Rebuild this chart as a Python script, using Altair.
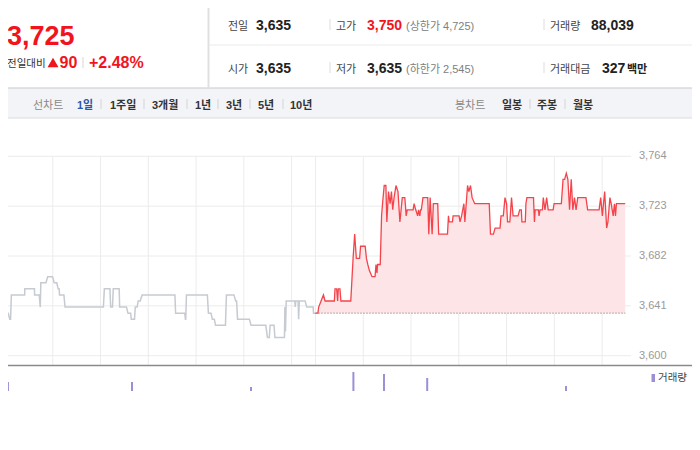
import altair as alt
import pandas as pd

# ---------------- data ----------------
prev_close = 3635
y_ticks = [3600, 3641, 3682, 3723, 3764]
grid_minutes = [0, 60, 120, 180, 240, 300, 360, 390, 450, 510, 570, 630, 690, 750]

# previous session (grey), minutes since 09:00 of previous day
prev_series = [
    (0, 3625), (1, 3635), (4, 3635), (6, 3630), (7, 3630), (8, 3650), (24.7, 3650), (24.9, 3655),
    (37, 3655), (37.2, 3650), (43, 3650), (44.3, 3640), (45, 3660), (51.5, 3660), (53.6, 3665),
    (59.7, 3665), (61.8, 3660), (65, 3660), (66.7, 3655), (68, 3655), (68.5, 3650), (74, 3650),
    (75.4, 3640), (123.6, 3640), (124.8, 3655), (131.8, 3655), (132.7, 3640), (135, 3640),
    (136, 3655), (143.4, 3655), (144, 3640), (152.5, 3640), (154.5, 3635), (157.8, 3635),
    (158.6, 3630), (162.7, 3630), (163.6, 3640), (166, 3640), (167.3, 3645), (169.8, 3645),
    (172.2, 3650), (213.4, 3650), (214.3, 3635), (225.8, 3635), (226.6, 3630), (227, 3630),
    (227.9, 3650), (254.2, 3650), (255.5, 3635), (258.8, 3635), (260.4, 3630), (262.9, 3630),
    (264.5, 3625), (276.9, 3625), (278.1, 3650), (287.6, 3650), (289.7, 3645), (290.9, 3645),
    (292.1, 3630), (307, 3630), (309, 3625), (327.6, 3625), (329.6, 3615), (332, 3615),
    (333, 3625), (337.9, 3625), (339, 3615), (351, 3615), (351.6, 3640), (352.3, 3620),
    (353.2, 3645), (364, 3645), (364.6, 3640), (365.2, 3645), (368.2, 3645), (368.8, 3630),
    (369.6, 3645), (377, 3645), (379, 3640), (387, 3640), (387.5, 3635), (390, 3635),
]

# today's session (red)
today_series = [
    (390, 3635), (393, 3635), (394, 3640), (397, 3645), (400, 3650), (402, 3645), (413.7, 3645),
    (414.5, 3655), (416.6, 3655), (417.8, 3645), (418.6, 3655), (420.7, 3655), (421.9, 3645),
    (434.3, 3645), (437.2, 3680), (439.2, 3700), (441.3, 3680), (445.4, 3680), (446.6, 3690),
    (452.4, 3690), (454, 3680), (455.7, 3675), (457.7, 3670), (461, 3665), (464.8, 3665),
    (466, 3675), (467.2, 3668), (468, 3675), (471.3, 3675), (473, 3715), (474.2, 3725),
    (476.3, 3740), (478.4, 3740), (479.6, 3710), (481.7, 3735), (483.7, 3725), (485.4, 3735),
    (487, 3720), (488.7, 3730), (491.1, 3740), (493.6, 3735), (496, 3710), (499, 3730),
    (502.2, 3730), (503.9, 3715), (505.2, 3720), (512.6, 3720), (513.8, 3725), (515.9, 3720),
    (518.3, 3715), (519.5, 3720), (521, 3715), (522, 3720), (522.9, 3720), (525, 3730),
    (531, 3730), (532.3, 3700), (534, 3730), (536.5, 3700), (538, 3725), (543.5, 3725),
    (544.7, 3700), (555.8, 3700), (557, 3715), (557.9, 3710), (562, 3710), (562.8, 3715),
    (570.3, 3715), (571.5, 3710), (573.5, 3715), (576.4, 3725), (577.6, 3710), (579.3, 3725),
    (581, 3740), (582.6, 3735), (584.7, 3740), (586.7, 3730), (590, 3725), (608.2, 3725),
    (609.8, 3700), (613.5, 3700), (615.6, 3705), (621.8, 3705), (623, 3715), (625.9, 3715),
    (628, 3730), (630, 3725), (631.2, 3710), (634.1, 3710), (636.2, 3730), (638.2, 3715),
    (644.4, 3715), (646.5, 3720), (648.5, 3720), (649.3, 3710), (653.5, 3710), (654.3, 3725),
    (655.5, 3730), (663.8, 3730), (665, 3710), (665.9, 3720), (670, 3720), (670.8, 3715),
    (672, 3720), (675, 3720), (676.1, 3730), (678.2, 3720), (680.3, 3730), (682.3, 3720),
    (688.5, 3720), (689.7, 3725), (698.8, 3725), (700.9, 3745), (702.9, 3745), (705, 3750),
    (707, 3745), (709.1, 3720), (711.2, 3745), (713.2, 3720), (715.3, 3730), (717.3, 3720),
    (719.4, 3730), (729.7, 3730), (731.8, 3720), (746.2, 3720), (748.2, 3730), (750.3, 3715),
    (753.2, 3735), (755.7, 3705), (757.3, 3710), (759.8, 3730), (761.4, 3725), (763.9, 3715),
    (765.5, 3725), (766.8, 3715), (768, 3725), (779, 3725),
]

vol_minutes = [3.7, 159.5, 309, 437.6, 476, 530.3, 704.6]
vol_values = [9000, 9000, 4000, 19000, 17000, 13000, 5000]

# ---------------- tables ----------------
prev_df = pd.DataFrame(prev_series, columns=["m", "price"])
today_df = pd.DataFrame(today_series, columns=["m", "price"])
today_df["base"] = prev_close
vol_df = pd.DataFrame({"m": vol_minutes, "v": vol_values})
ytick_df = pd.DataFrame({"v": y_ticks})
vgrid_df = pd.DataFrame({"m": grid_minutes})
pc_df = pd.DataFrame({"x0": [today_series[0][0]], "x1": [today_series[-1][0]], "p": [prev_close]})

FONT = "'Liberation Sans', 'Noto Sans CJK KR', sans-serif"
RED = "#f2141c"
BLUE = "#2c56a8"
GRID = "#ececec"

xs = alt.Scale(domain=[0, 780], range=[0, 631], nice=False, zero=False)
ys = alt.Scale(domain=[3600, 3764], range=[355.7, 156.3], nice=False, zero=False)
vs = alt.Scale(domain=[0, 25000], range=[391, 366], nice=False)


def X(f):
    return alt.X(f, scale=xs, axis=None)


def Y(f):
    return alt.Y(f, scale=ys, axis=None)


hgrid = alt.Chart(ytick_df).mark_rule(color=GRID, strokeWidth=1).encode(
    y=Y("v:Q"), x=alt.value(0), x2=alt.value(631))
ylabels = alt.Chart(ytick_df).mark_text(align="left", baseline="middle", fontSize=11,
                                         font="Liberation Sans", color="#9a9a9a").encode(
    y=Y("v:Q"), x=alt.value(639), text=alt.Text("v:Q", format=",d"))
vgrid = alt.Chart(vgrid_df).mark_rule(color=GRID, strokeWidth=1).encode(
    x=X("m:Q"), y=alt.value(156.3), y2=alt.value(365))
area = alt.Chart(today_df).mark_area(color="#fde4e6", opacity=1).encode(
    x=X("m:Q"), y=Y("price:Q"), y2="base:Q")
grey = alt.Chart(prev_df).mark_line(color="#c6cad1", strokeWidth=1.5).encode(
    x=X("m:Q"), y=Y("price:Q"))
red = alt.Chart(today_df).mark_line(color="#f4444b", strokeWidth=1.3).encode(
    x=X("m:Q"), y=Y("price:Q"))
pcl = alt.Chart(pc_df).mark_rule(color="#666", strokeDash=[1, 2], strokeWidth=1).encode(
    x=X("x0:Q"), x2="x1:Q", y=Y("p:Q"))

price_layer = alt.layer(hgrid, vgrid, ylabels, area, grey, pcl, red)

vol = alt.Chart(vol_df).mark_bar(size=2, color="#9b8fd6").encode(
    x=X("m:Q"), y=alt.Y("v:Q", scale=vs, axis=None))

ONE = alt.Data(values=[{"a": 1}])


def T(s, x, y, size=11, color="#333", bold=False, baseline="alphabetic", align="left"):
    return alt.Chart(ONE).mark_text(text=s, align=align, baseline=baseline, fontSize=size,
                                    fontWeight="bold" if bold else "normal", color=color,
                                    font=FONT).encode(x=alt.value(x), y=alt.value(y))


def R(x1, y1, x2, y2, color="#ddd", w=1):
    return alt.Chart(ONE).mark_rule(color=color, strokeWidth=w).encode(
        x=alt.value(x1), x2=alt.value(x2), y=alt.value(y1), y2=alt.value(y2))


def B(x1, y1, x2, y2, color):
    return alt.Chart(ONE).mark_rect(color=color).encode(
        x=alt.value(x1), x2=alt.value(x2), y=alt.value(y1), y2=alt.value(y2))


deco = [
    B(0, 0, 700, 2.5, "#9ca0a8"),
    B(0, 88, 700, 118, "#f3f4f7"),
    R(0, 88, 700, 88, "#c8cacf", 1.2),
    R(0, 118, 700, 118, "#dadce0", 1),
    R(208.5, 2.5, 208.5, 88, "#e0e0e0", 2),
    R(209, 45, 700, 45, "#ebebeb", 1),
    # left block
    T("3,725", 7, 45, 27, RED, True),
    T("전일대비", 7, 67, 10.5, "#333"),
    alt.Chart(ONE).mark_point(shape="triangle-up", filled=True, color=RED, size=120, opacity=1)
    .encode(x=alt.value(53), y=alt.value(62.5)),
    T("90", 59.5, 67.5, 16, RED, True),
    R(83, 57, 83, 68, "#d6d6d6"),
    T("+2.48%", 89, 67.5, 16, RED, True),
    # row 1
    T("전일", 228, 29.5, 11, "#444"),
    T("3,635", 256, 29.5, 14, "#222", True),
    R(330, 19, 330, 30),
    T("고가", 336, 29.5, 11, "#444"),
    T("3,750", 367, 29.5, 14, RED, True),
    T("(상한가 4,725)", 406, 29.5, 11, "#808080"),
    R(544, 19, 544, 30),
    T("거래량", 550, 29.5, 11, "#444"),
    T("88,039", 591, 29.5, 14, "#222", True),
    # row 2
    T("시가", 228, 72.5, 11, "#444"),
    T("3,635", 256, 72.5, 14, "#222", True),
    R(330, 62, 330, 73),
    T("저가", 336, 72.5, 11, "#444"),
    T("3,635", 367, 72.5, 14, "#222", True),
    T("(하한가 2,545)", 406, 72.5, 11, "#808080"),
    R(544, 62, 544, 73),
    T("거래대금", 550, 72.5, 11, "#444"),
    T("327", 602, 72.5, 14, "#222", True),
    T("백만", 627, 72.5, 11, "#222", True),
    # toolbar
    T("선차트", 33, 109, 11, "#888"),
    T("1일", 77, 109, 11, BLUE, True),
    T("1주일", 110, 109, 11, "#333", True),
    T("3개월", 152, 109, 11, "#333", True),
    T("1년", 195, 109, 11, "#333", True),
    T("3년", 226, 109, 11, "#333", True),
    T("5년", 258, 109, 11, "#333", True),
    T("10년", 290, 109, 11, "#333", True),
    T("봉차트", 455, 109, 11, "#888"),
    T("일봉", 502, 109, 11, "#333", True),
    T("주봉", 537, 109, 11, "#333", True),
    T("월봉", 573, 109, 11, "#333", True),
]
for sx in [101, 144, 187, 218, 250, 283, 530, 565]:
    deco.append(R(sx, 99, sx, 109, "#d4d4d4"))

bottom = [
    R(0, 365.5, 700, 365.5, "#8a8a8a", 1.6),
    B(651.5, 374, 655, 382, "#9b8fd6"),
    T("거래량", 658, 378, 10.5, "#444", baseline="middle"),
]

chart = alt.layer(price_layer, vol, *deco, *bottom).resolve_scale(y="independent").properties(
    width=700, height=430,
    autosize=alt.AutoSizeParams(type="none"),
    padding={"left": -8, "top": -8, "right": -8, "bottom": 0},
    background="white",
).configure_view(strokeWidth=0)

chart.save("out.html", embed_options={"renderer": "svg", "actions": False})
